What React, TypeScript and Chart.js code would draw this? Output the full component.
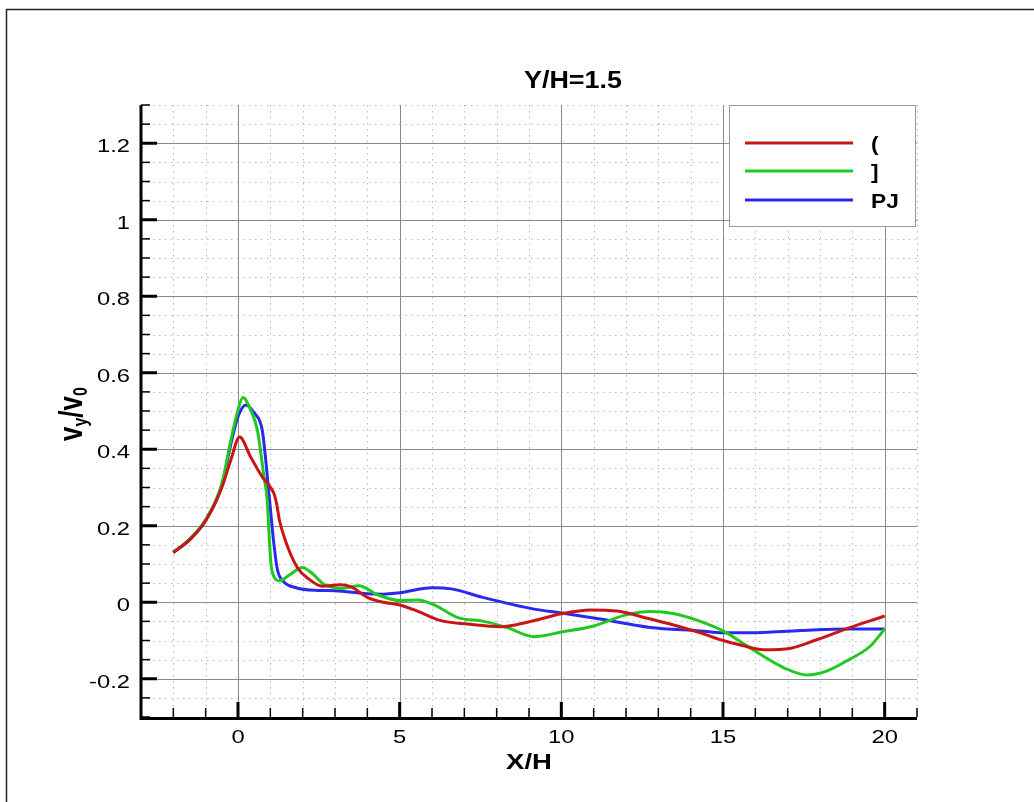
import React, { useEffect, useRef } from "react";
import { Chart, registerables } from "chart.js";

Chart.register(...registerables);

// ---------- data ----------
const seriesNames = ["(", "]", "PJ"];
const seriesColors = ["#c81616", "#22c822", "#2a2aee"];

const redX = [-2, -1.5, -1, -0.5, -0.23, 0.05, 0.39, 0.75, 1.01, 1.13, 1.2, 1.28, 1.45, 1.84, 2.2, 2.6, 3.17, 3.5, 4.0, 4.5, 5.0, 5.55, 6.27, 7.1, 8.12, 8.64, 9.3, 10.0, 10.9, 11.73, 12.75, 13.5, 14.3, 15.0, 15.6, 16.25, 17.1, 17.9, 18.9, 20];
const redY = [0.13, 0.163, 0.213, 0.3, 0.37, 0.432, 0.38, 0.328, 0.3, 0.28, 0.255, 0.215, 0.165, 0.09, 0.06, 0.042, 0.046, 0.04, 0.013, 0.0, -0.007, -0.023, -0.048, -0.057, -0.064, -0.058, -0.045, -0.03, -0.02, -0.023, -0.044, -0.06, -0.08, -0.1, -0.113, -0.124, -0.12, -0.098, -0.067, -0.036];

const greenX = [-2, -1.5, -1, -0.5, -0.23, 0, 0.15, 0.39, 0.6, 0.8, 0.9, 0.96, 1.02, 1.12, 1.27, 1.6, 1.99, 2.3, 2.66, 3.2, 3.74, 4.3, 5.03, 5.55, 6.05, 6.8, 7.6, 8.32, 9.15, 10.0, 11.0, 12.0, 12.75, 13.5, 14.3, 15.0, 15.85, 16.9, 17.6, 18.2, 18.9, 19.55, 20];
const greenY = [0.13, 0.165, 0.216, 0.31, 0.42, 0.503, 0.535, 0.503, 0.45, 0.33, 0.27, 0.18, 0.1, 0.066, 0.056, 0.072, 0.091, 0.075, 0.047, 0.036, 0.043, 0.02, 0.004, 0.006, -0.006, -0.04, -0.05, -0.066, -0.09, -0.078, -0.062, -0.033, -0.024, -0.03, -0.05, -0.075, -0.12, -0.172, -0.19, -0.18, -0.15, -0.115, -0.07];

const blueX = [-2, -1.5, -1, -0.5, -0.23, 0, 0.24, 0.5, 0.75, 0.86, 0.95, 1.03, 1.1, 1.22, 1.4, 1.8, 2.45, 3.0, 4.0, 4.5, 5.0, 6.0, 6.6, 7.6, 9.16, 10.0, 11.2, 12.75, 14.3, 15.0, 15.85, 17.4, 18.9, 20];
const blueY = [0.13, 0.163, 0.214, 0.305, 0.41, 0.485, 0.516, 0.495, 0.45, 0.37, 0.29, 0.22, 0.16, 0.085, 0.055, 0.038, 0.031, 0.03, 0.022, 0.021, 0.025, 0.038, 0.035, 0.012, -0.018, -0.028, -0.044, -0.066, -0.075, -0.08, -0.08, -0.074, -0.07, -0.07];

const xTickValues = [0, 5, 10, 15, 20];
const yTickValues = [-0.2, 0, 0.2, 0.4, 0.6, 0.8, 1, 1.2];
const xMin = -3;
const xMax = 21;
const yMin = -0.3;
const yMax = 1.3;
const xMinorStep = 1;
const yMinorStep = 0.05;

const titleText = "Y/H=1.5";
const xLabelText = "X/H";

const FONT = '"Liberation Sans", Arial, Helvetica, sans-serif';

function drawText(
  ctx: CanvasRenderingContext2D,
  text: string,
  x: number,
  y: number,
  font: string,
  align: CanvasTextAlign,
  sx: number
) {
  ctx.save();
  ctx.translate(x, y);
  ctx.scale(sx, 1);
  ctx.font = font;
  ctx.textAlign = align;
  ctx.textBaseline = "alphabetic";
  ctx.fillStyle = "#000";
  ctx.fillText(text, 0, 0);
  ctx.restore();
}

function minorValues(min: number, max: number, step: number) {
  const out: number[] = [];
  const n = Math.round((max - min) / step);
  for (let i = 0; i <= n; i++) out.push(+(min + i * step).toFixed(6));
  return out;
}

function isIn(v: number, arr: number[]) {
  return arr.some((a) => Math.abs(a - v) < 1e-6);
}

const decor = {
  id: "decor",
  beforeDatasetsDraw(chart: any) {
    const { ctx, chartArea: a, scales } = chart;
    const xs = scales.x;
    const ys = scales.y;
    ctx.save();
    // minor dotted grid
    ctx.strokeStyle = "#b8b8b8";
    ctx.lineWidth = 1;
    ctx.setLineDash([1.5, 4.5]);
    for (const v of minorValues(xMin, xMax, xMinorStep)) {
      if (isIn(v, xTickValues) || Math.abs(v - xMin) < 1e-6) continue;
      const px = Math.round(xs.getPixelForValue(v)) + 0.5;
      ctx.beginPath();
      ctx.moveTo(px, a.top);
      ctx.lineTo(px, a.bottom);
      ctx.stroke();
    }
    for (const v of minorValues(yMin, yMax, yMinorStep)) {
      if (isIn(v, yTickValues) || Math.abs(v - yMin) < 1e-6) continue;
      const py = Math.round(ys.getPixelForValue(v)) + 0.5;
      ctx.beginPath();
      ctx.moveTo(a.left, py);
      ctx.lineTo(a.right, py);
      ctx.stroke();
    }
    // major solid grid
    ctx.setLineDash([]);
    ctx.strokeStyle = "#8a8a8a";
    for (const t of xs.ticks) {
      const px = Math.round(xs.getPixelForValue(t.value)) + 0.5;
      ctx.beginPath();
      ctx.moveTo(px, a.top);
      ctx.lineTo(px, a.bottom);
      ctx.stroke();
    }
    for (const t of ys.ticks) {
      const py = Math.round(ys.getPixelForValue(t.value)) + 0.5;
      ctx.beginPath();
      ctx.moveTo(a.left, py);
      ctx.lineTo(a.right, py);
      ctx.stroke();
    }
    ctx.restore();
  },
  afterDatasetsDraw(chart: any) {
    const { ctx, chartArea: a, scales } = chart;
    const xs = scales.x;
    const ys = scales.y;
    ctx.save();

    // axis lines
    ctx.strokeStyle = "#000";
    ctx.lineWidth = 3;
    ctx.beginPath();
    ctx.moveTo(a.left, a.top);
    ctx.lineTo(a.left, a.bottom + 1.5);
    ctx.lineTo(a.right, a.bottom + 1.5);
    ctx.stroke();

    // minor ticks
    ctx.lineWidth = 1.5;
    for (const v of minorValues(xMin, xMax, xMinorStep)) {
      if (isIn(v, xTickValues)) continue;
      const px = xs.getPixelForValue(v);
      ctx.beginPath();
      ctx.moveTo(px, a.bottom);
      ctx.lineTo(px, a.bottom - 9);
      ctx.stroke();
    }
    for (const v of minorValues(yMin, yMax, yMinorStep)) {
      if (isIn(v, yTickValues)) continue;
      const py = ys.getPixelForValue(v);
      ctx.beginPath();
      ctx.moveTo(a.left, py);
      ctx.lineTo(a.left + 9, py);
      ctx.stroke();
    }
    // major ticks + labels
    ctx.lineWidth = 3;
    for (const t of xs.ticks) {
      const px = xs.getPixelForValue(t.value);
      ctx.beginPath();
      ctx.moveTo(px, a.bottom);
      ctx.lineTo(px, a.bottom - 15);
      ctx.stroke();
      drawText(ctx, String(t.value), px, a.bottom + 26, `19px ${FONT}`, "center", 1.25);
    }
    for (const t of ys.ticks) {
      const py = ys.getPixelForValue(t.value);
      ctx.beginPath();
      ctx.moveTo(a.left, py);
      ctx.lineTo(a.left + 16, py);
      ctx.stroke();
      const lbl = String(+(+t.value).toFixed(2));
      drawText(ctx, lbl, a.left - 11, py + 9, `19px ${FONT}`, "right", 1.25);
    }

    // title & x label
    drawText(ctx, titleText, 573, 88, `bold 23px ${FONT}`, "center", 1.17);
    drawText(ctx, xLabelText, 529, 769, `bold 22px ${FONT}`, "center", 1.25);

    // y label: v_y/v_0 rotated
    ctx.save();
    ctx.translate(82, 441);
    ctx.rotate(-Math.PI / 2);
    ctx.scale(1, 1.25);
    ctx.fillStyle = "#000";
    ctx.textBaseline = "alphabetic";
    ctx.textAlign = "left";
    let cx = 0;
    const big = `bold 26px ${FONT}`;
    const small = `bold 16px ${FONT}`;
    const parts: [string, boolean][] = [["v", false], ["y", true], ["/", false], ["v", false], ["0", true]];
    for (const [s, sub] of parts) {
      ctx.font = sub ? small : big;
      ctx.fillText(s, cx, sub ? 4 : 0);
      cx += ctx.measureText(s).width;
    }
    ctx.restore();

    // legend
    ctx.fillStyle = "#fff";
    ctx.fillRect(730, 105, 186, 121);
    ctx.strokeStyle = "#9a9a9a";
    ctx.lineWidth = 1;
    ctx.strokeRect(729.5, 105.5, 186, 121);
    const ly = [143, 171, 200];
    chart.data.datasets.forEach((ds: any, i: number) => {
      ctx.strokeStyle = ds.borderColor;
      ctx.lineWidth = 3;
      ctx.beginPath();
      ctx.moveTo(745, ly[i]);
      ctx.lineTo(853, ly[i]);
      ctx.stroke();
      drawText(ctx, ds.label, 871, ly[i] + 8, `bold 21px ${FONT}`, "left", 1.08);
    });

    // outer frame (top & left)
    ctx.strokeStyle = "#222";
    ctx.lineWidth = 1.5;
    ctx.beginPath();
    ctx.moveTo(1034, 9.5);
    ctx.lineTo(6.5, 9.5);
    ctx.lineTo(6.5, 802);
    ctx.stroke();

    ctx.restore();
  },
};

export default function App() {
  const ref = useRef<HTMLCanvasElement>(null);
  useEffect(() => {
    const xsArr = [redX, greenX, blueX];
    const ysArr = [redY, greenY, blueY];
    const chart = new Chart(ref.current as HTMLCanvasElement, {
      type: "line",
      data: {
        datasets: seriesNames.map((name, i) => ({
          label: name,
          data: xsArr[i].map((x, j) => ({ x, y: ysArr[i][j] })),
          borderColor: seriesColors[i],
          backgroundColor: seriesColors[i],
          borderWidth: 3,
          pointRadius: 0,
          fill: false,
          cubicInterpolationMode: "monotone" as const,
        })),
      },
      options: {
        responsive: false,
        animation: false,
        devicePixelRatio: 1,
        events: [],
        layout: { padding: { top: 105, right: 117, left: 0, bottom: 0 } },
        plugins: {
          legend: { display: false },
          tooltip: { enabled: false },
          title: { display: false },
        },
        scales: {
          x: {
            type: "linear",
            min: xMin,
            max: xMax,
            ticks: { display: false },
            grid: { display: false },
            border: { display: false },
            afterBuildTicks: (s: any) => {
              s.ticks = xTickValues.map((v) => ({ value: v }));
            },
            afterFit: (s: any) => {
              s.height = 85;
            },
          },
          y: {
            type: "linear",
            min: yMin,
            max: yMax,
            ticks: { display: false },
            grid: { display: false },
            border: { display: false },
            afterBuildTicks: (s: any) => {
              s.ticks = yTickValues.map((v) => ({ value: v }));
            },
            afterFit: (s: any) => {
              s.width = 141;
            },
          },
        },
      },
      plugins: [decor],
    } as any);
    return () => chart.destroy();
  }, []);
  return (
    <div style={{ position: "fixed", left: 0, top: 0, width: 1034, height: 802, background: "#fff" }}>
      <canvas ref={ref} width={1034} height={802} style={{ width: 1034, height: 802, display: "block" }} />
    </div>
  );
}
